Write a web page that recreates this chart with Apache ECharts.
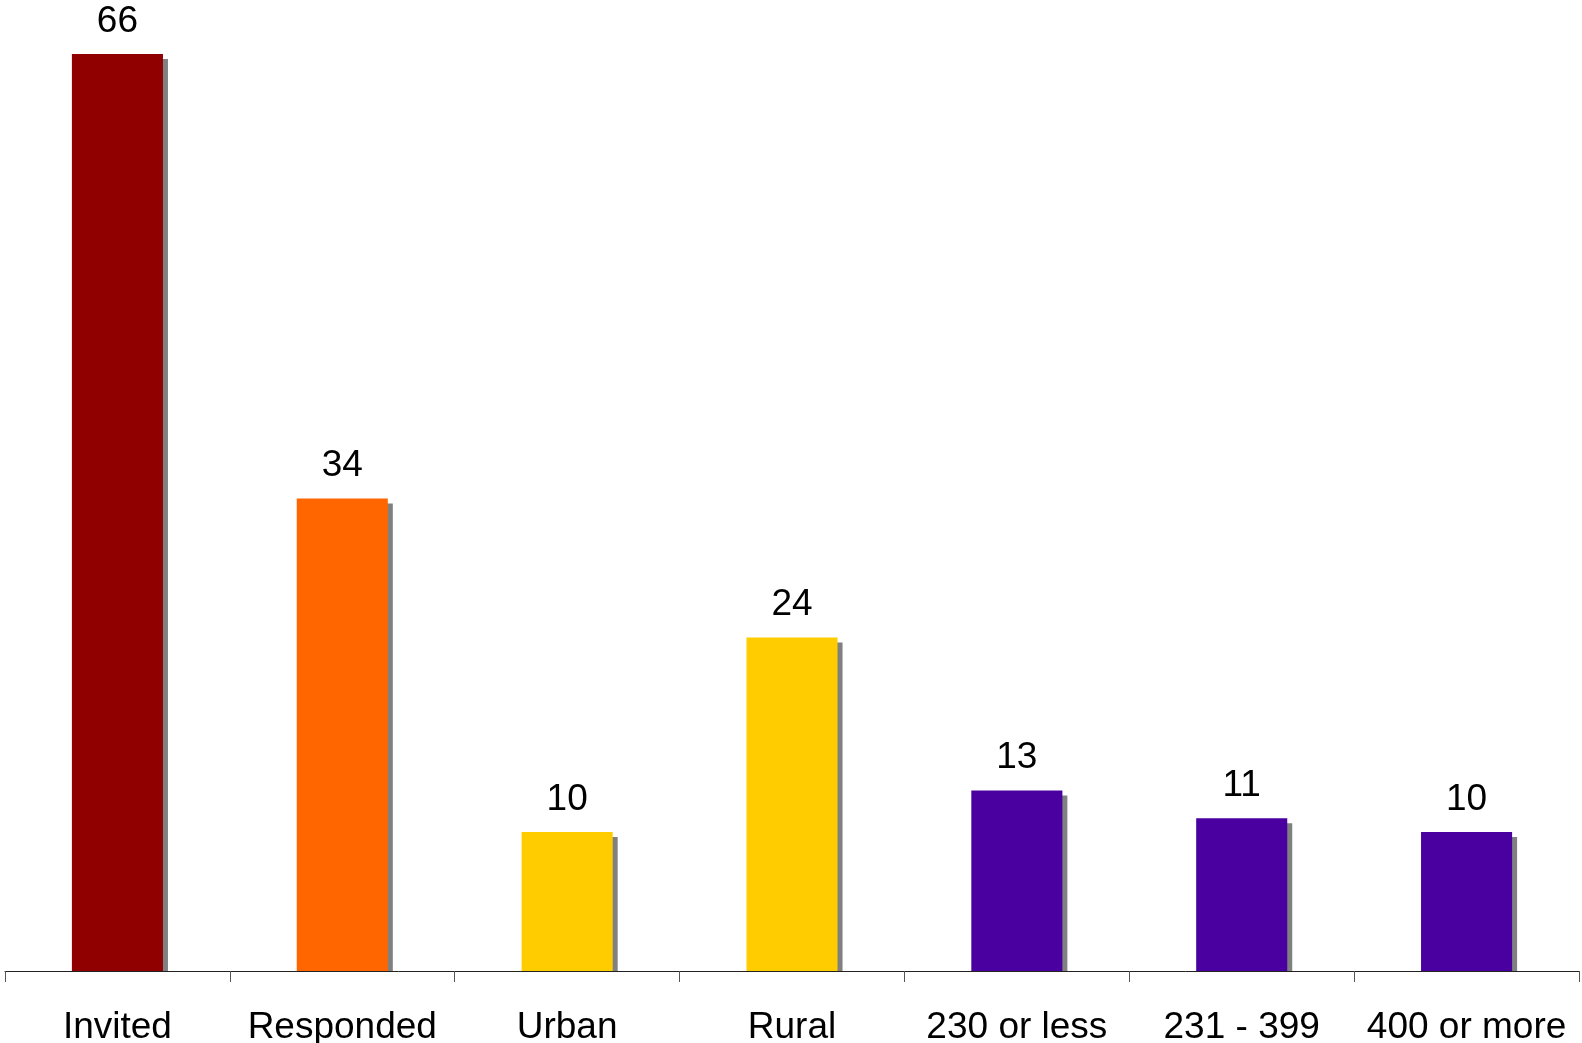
<!DOCTYPE html>
<html>
<head>
<meta charset="utf-8">
<script src="https://cdn.jsdelivr.net/npm/echarts@6/dist/echarts.min.js"></script>
<style>
  html, body { margin: 0; padding: 0; background: #fff; }
  #chart { width: 1582px; height: 1043px; }
</style>
</head>
<body>
<div id="chart"></div>
<script>
// Survey counts by group
const categories = ['Invited', 'Responded', 'Urban', 'Rural', '230 or less', '231 - 399', '400 or more'];
const counts = [66, 34, 10, 24, 13, 11, 10];
const barColors = ['#900000', '#FF6600', '#FFCC00', '#FFCC00', '#4A00A0', '#4A00A0', '#4A00A0'];

const chart = echarts.init(document.getElementById('chart'));
const font = '"Liberation Sans", Arial, sans-serif';

chart.setOption({
  animation: false,
  grid: { left: 5, right: 3, top: 54, bottom: 72, containLabel: false, outerBoundsMode: 'none' },
  xAxis: {
    type: 'category',
    data: categories,
    z: 10,
    axisLine: { lineStyle: { color: '#222', width: 1 } },
    axisTick: { show: true, length: 11, lineStyle: { color: '#555' } },
    axisLabel: { color: '#000', fontSize: 37, fontFamily: font, margin: 38, interval: 0 }
  },
  yAxis: {
    type: 'value', min: 0, max: 66,
    show: false,
    splitLine: { show: false }
  },
  // keeps the bar shadows from showing below the baseline
  graphic: [{
    type: 'rect', z: 5,
    shape: { x: 0, y: 972, width: 1582, height: 10 },
    style: { fill: '#fff' }
  }],
  series: [{
    type: 'bar',
    barWidth: '40.5%',
    data: counts.map((v, i) => ({ value: v, itemStyle: { color: barColors[i] } })),
    itemStyle: {
      shadowColor: '#808080', shadowBlur: 0, shadowOffsetX: 5, shadowOffsetY: 5
    },
    label: {
      show: true, position: 'top', distance: 14,
      color: '#000', fontSize: 37, fontFamily: font
    }
  }]
});
</script>
</body>
</html>
